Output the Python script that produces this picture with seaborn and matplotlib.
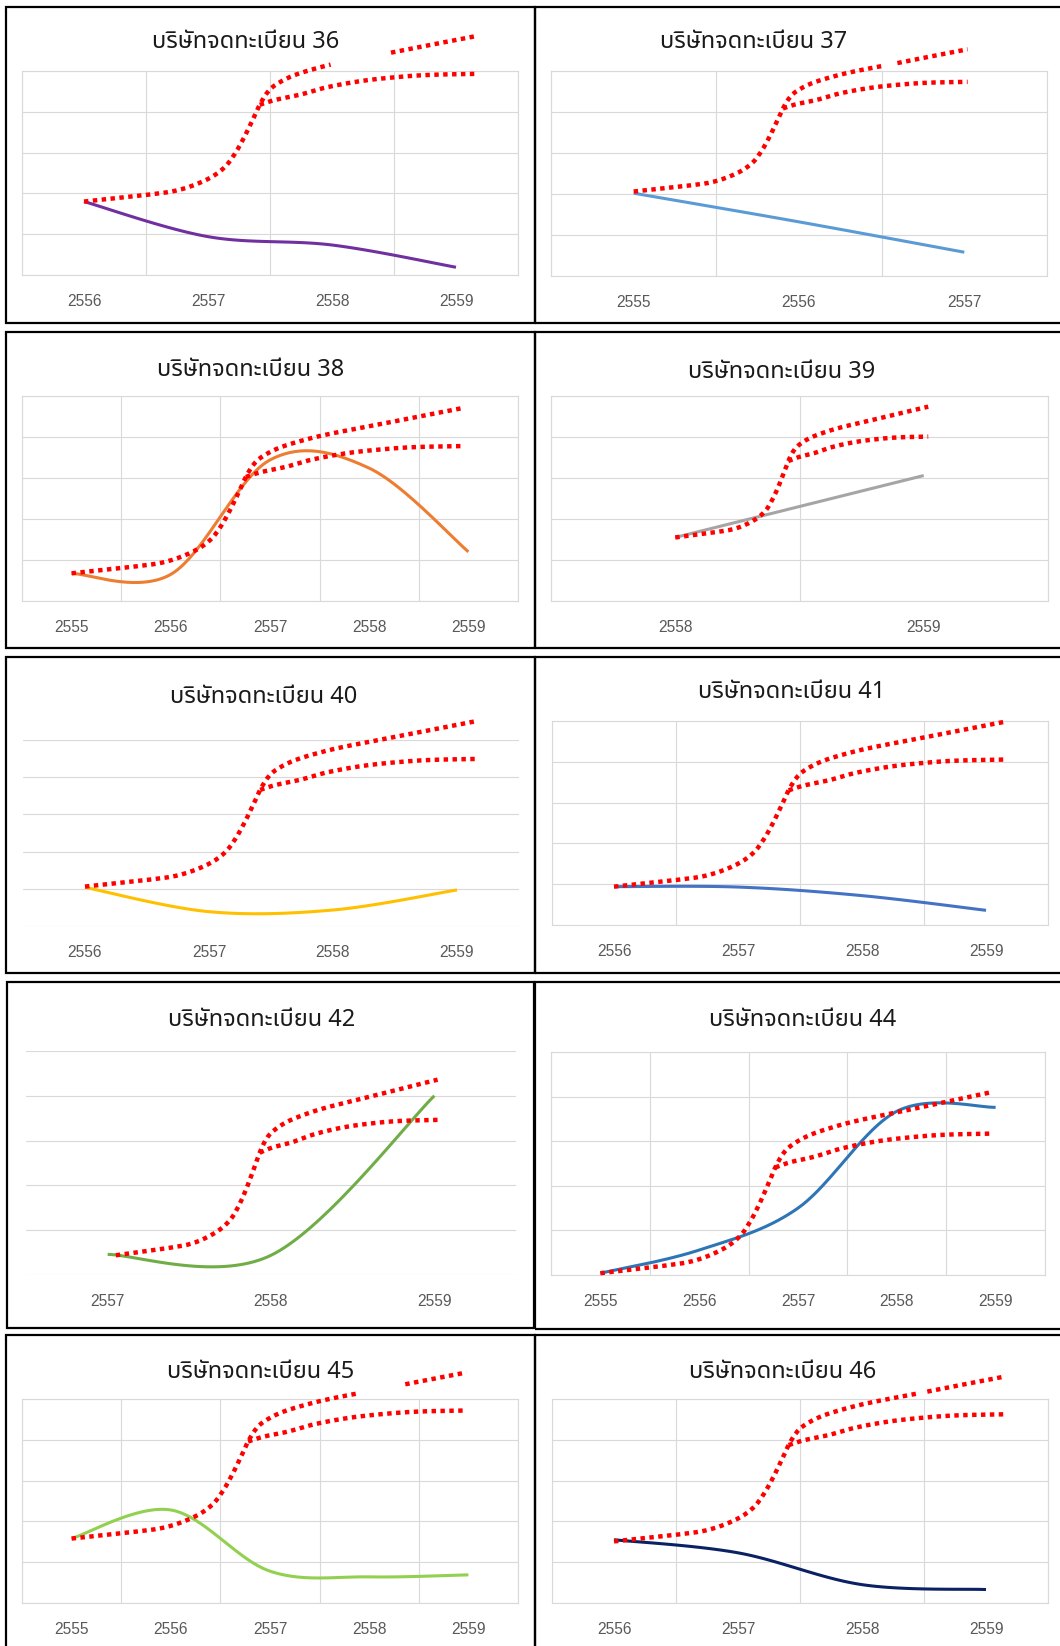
import numpy as np
import pandas as pd
import matplotlib
matplotlib.use("Agg")
import matplotlib.pyplot as plt
from matplotlib import font_manager
from matplotlib.ft2font import FT2Font
from matplotlib.patches import Rectangle
import seaborn as sns

# ---------------------------------------------------------------- data
# values are in grid-line units (each panel has 5 equal horizontal bands)
title_prefix = "บริษัทจดทะเบียน"

years_36 = [2556, 2557, 2558, 2559]
values_36 = [1.80, 0.94, 0.735, 0.19]

years_37 = [2555, 2556, 2557]
values_37 = [2.02, 1.32, 0.58]

years_38 = [2555, 2556, 2557, 2558, 2559]
values_38 = [0.675, 0.65, 3.44, 3.24, 1.20]

years_39 = [2558, 2559]
values_39 = [1.55, 3.06]

years_40 = [2556, 2557, 2558, 2559]
values_40 = [1.04, 0.385, 0.43, 0.97]

years_41 = [2556, 2557, 2558, 2559]
values_41 = [0.94, 0.93, 0.72, 0.36]

years_42 = [2557, 2558, 2559]
values_42 = [0.46, 0.44, 4.00]

years_44 = [2555, 2556, 2557, 2558, 2559]
values_44 = [0.04, 0.56, 1.50, 3.67, 3.76]

years_45 = [2555, 2556, 2557, 2558, 2559]
values_45 = [1.58, 2.28, 0.78, 0.64, 0.69]

years_46 = [2556, 2557, 2558, 2559]
values_46 = [1.55, 1.23, 0.45, 0.33]

# expected-growth band: shared S-shaped profile (0..1 in both directions)
band_upper_u = [0, 0.158, 0.241, 0.311, 0.355, 0.382, 0.404, 0.421, 0.439, 0.447,
                0.465, 0.487, 0.531, 0.592, 0.662, 0.781, 0.882, 1.0]
band_upper_v = [0, 0.040, 0.070, 0.131, 0.201, 0.282, 0.372, 0.453, 0.543, 0.584,
                0.654, 0.704, 0.759, 0.805, 0.845, 0.899, 0.946, 1.0]
band_lower_u = [0.447, 0.487, 0.548, 0.618, 0.706, 0.794, 0.882, 1.0]
band_lower_v = [0.584, 0.614, 0.644, 0.690, 0.728, 0.751, 0.765, 0.771]

# band anchors per company: (start x, start y, end x, end y) in category/grid units
band_36 = (0.0, 1.80, 3.17, 5.86)
band_37 = (0.0, 2.06, 2.02, 5.53)
band_38 = (0.0, 0.675, 3.93, 4.70)
band_39 = (0.0, 1.55, 1.018, 4.74)
band_40 = (0.0, 1.06, 3.16, 5.51)
band_41 = (0.0, 0.94, 3.15, 4.98)
band_42 = (0.05, 0.44, 2.02, 4.36)
band_44 = (0.0, 0.04, 3.96, 4.10)
band_45 = (0.0, 1.58, 3.98, 5.65)
band_46 = (0.0, 1.51, 3.15, 5.55)

# stretches of the upper band edge hidden behind the title box
band_gap_36 = (1.99, 2.47)
band_gap_37 = (1.51, 1.59)
band_gap_45 = (2.89, 3.36)
band_gap_46 = (2.45, 2.52)

# ---------------------------------------------------------------- styling
W, H = 1060, 1646
GRID = "#D9D9D9"
TICK = "#595959"
BAND_RED = "#FF0000"


def thai_family():
    sample = "บริษัทจดทะเบียน"
    found = []
    for fe in font_manager.fontManager.ttflist:
        try:
            ft = FT2Font(fe.fname)
            if all(ft.get_char_index(ord(c)) for c in sample):
                found.append(fe.name)
        except Exception:
            continue
    if not found:
        return None
    prefer = ["Noto Sans Thai", "Noto Sans Thai UI", "Loma", "Garuda", "Sarabun",
              "Tlwg Typo", "Norasi"]
    for p in prefer:
        if p in found:
            return p
    sans = [f for f in found if "Sans" in f]
    return sans[0] if sans else found[0]


sns.set_theme(style="white")
thai = thai_family()
title_family = [thai, "DejaVu Sans"] if thai else ["DejaVu Sans"]
plt.rcParams["font.family"] = ["Liberation Sans", "DejaVu Sans"]


def smooth(xs, ys, steps=40):
    """Catmull-Rom style smoothing like a spreadsheet's smoothed line."""
    P = np.column_stack([xs, ys]).astype(float)
    if len(P) < 2:
        return P[:, 0], P[:, 1]
    P = np.vstack([P[0], P, P[-1]])
    t = np.linspace(0, 1, steps, endpoint=False)[:, None]
    h00 = 2 * t**3 - 3 * t**2 + 1
    h10 = t**3 - 2 * t**2 + t
    h01 = -2 * t**3 + 3 * t**2
    h11 = t**3 - t**2
    out = []
    for i in range(1, len(P) - 2):
        p0, p1, p2, p3 = P[i - 1], P[i], P[i + 1], P[i + 2]
        m1 = (p2 - p0) / 2
        m2 = (p3 - p1) / 2
        out.append(h00 * p1 + h10 * m1 + h01 * p2 + h11 * m2)
    out.append(P[-2][None, :])
    pts = np.vstack(out)
    return pts[:, 0], pts[:, 1]


def band_edge(u, v, anchor):
    x0, y0, x1, y1 = anchor
    su, sv = smooth(u, v, 25)
    return x0 + su * (x1 - x0), y0 + sv * (y1 - y0)


def draw_red(ax, xs, ys):
    sns.lineplot(x=xs, y=ys, ax=ax, color=BAND_RED, linewidth=3.2, sort=False,
                 estimator=None, linestyle=(0, (1, 1)), dash_capstyle="butt",
                 clip_on=False, zorder=5)


panels = [
    dict(num=36, years=years_36, values=values_36, color="#7030A0", band=band_36, gap=band_gap_36,
         frame=True, ax_px=(22, 71, 518, 275), box=(6, 7, 535, 323), title_px=(246, 42)),
    dict(num=37, years=years_37, values=values_37, color="#5B9BD5", band=band_37, gap=band_gap_37,
         frame=True, ax_px=(551, 71, 1047, 276), box=(535, 7, 1070, 323), title_px=(754, 42)),
    dict(num=38, years=years_38, values=values_38, color="#ED7D31", band=band_38, gap=None,
         frame=True, ax_px=(22, 396, 518, 601), box=(6, 332, 535, 648), title_px=(251, 370)),
    dict(num=39, years=years_39, values=values_39, color="#A5A5A5", band=band_39, gap=None,
         frame=True, ax_px=(551, 396, 1048, 601), box=(535, 332, 1070, 648), title_px=(782, 372)),
    dict(num=40, years=years_40, values=values_40, color="#FFC000", band=band_40, gap=None,
         frame=False, ax_px=(23, 740, 519, 926), box=(6, 657, 535, 973), title_px=(264, 697)),
    dict(num=41, years=years_41, values=values_41, color="#4472C4", band=band_41, gap=None,
         frame=True, ax_px=(552, 721, 1048, 925), box=(535, 657, 1070, 973), title_px=(792, 692)),
    dict(num=42, years=years_42, values=values_42, color="#70AD47", band=band_42, gap=None,
         frame=False, ax_px=(26, 1051, 516, 1275), box=(7, 982, 534, 1328), title_px=(262, 1020)),
    dict(num=44, years=years_44, values=values_44, color="#2E75B6", band=band_44, gap=None,
         frame=True, ax_px=(551, 1052, 1045, 1275), box=(535, 982, 1070, 1329), title_px=(803, 1020)),
    dict(num=45, years=years_45, values=values_45, color="#92D050", band=band_45, gap=band_gap_45,
         frame=True, ax_px=(22, 1399, 518, 1603), box=(6, 1335, 535, 1670), title_px=(261, 1372)),
    dict(num=46, years=years_46, values=values_46, color="#0A2263", band=band_46, gap=band_gap_46,
         frame=True, ax_px=(552, 1399, 1048, 1603), box=(535, 1335, 1070, 1670), title_px=(783, 1372)),
]

fig = plt.figure(figsize=(W / 100, H / 100), dpi=100)
fig.patch.set_facecolor("white")

for p in panels:
    x0, y0, x1, y1 = p["ax_px"]
    ax = fig.add_axes([x0 / W, 1 - y1 / H, (x1 - x0) / W, (y1 - y0) / H])
    n = len(p["years"])
    idx = np.arange(n)

    # company line (smoothed)
    sx, sy = smooth(idx, p["values"])
    sns.lineplot(x=sx, y=sy, ax=ax, color=p["color"], linewidth=2.2, sort=False,
                 estimator=None, zorder=3, solid_capstyle="butt")

    # expected-growth band edges
    ux, uy = band_edge(band_upper_u, band_upper_v, p["band"])
    lx, ly = band_edge(band_lower_u, band_lower_v, p["band"])
    if p["gap"] is not None:
        g0, g1 = p["gap"]
        left = ux <= g0
        right = ux >= g1
        draw_red(ax, ux[left], uy[left])
        draw_red(ax, ux[right], uy[right])
    else:
        draw_red(ax, ux, uy)
    draw_red(ax, lx, ly)

    ax.set_xlim(-0.5, n - 0.5)
    ax.set_ylim(0, 5)
    ax.set_xticks(idx)
    ax.set_xticklabels([str(y) for y in p["years"]])
    ax.set_xticks(np.arange(-0.5, n), minor=True)
    ax.set_yticks(np.arange(6))
    ax.set_yticklabels([])
    ax.set_xlabel("")
    ax.set_ylabel("")
    ax.tick_params(which="both", length=0)
    ax.tick_params(axis="x", which="major", pad=13.5, labelsize=11.2, labelcolor=TICK)
    ax.grid(False)
    ax.grid(True, axis="y", which="major", color=GRID, linewidth=0.8)
    if p["frame"]:
        ax.grid(True, axis="x", which="minor", color=GRID, linewidth=0.8)
        for s in ax.spines.values():
            s.set_color(GRID)
            s.set_linewidth(0.8)
    else:
        for s in ax.spines.values():
            s.set_visible(False)
    ax.set_facecolor("none")

    tx, ty = p["title_px"]
    fig.text(tx / W, 1 - ty / H, f"{title_prefix} {p['num']}", ha="center", va="center",
             fontsize=17, color="#1A1A1A", family=title_family)

    bx0, by0, bx1, by1 = p["box"]
    fig.add_artist(Rectangle((bx0 / W, 1 - by1 / H), (bx1 - bx0) / W, (by1 - by0) / H,
                             transform=fig.transFigure, fill=False, edgecolor="black",
                             linewidth=1.6, zorder=0))

fig.savefig("out.png", dpi=100, facecolor="white")
